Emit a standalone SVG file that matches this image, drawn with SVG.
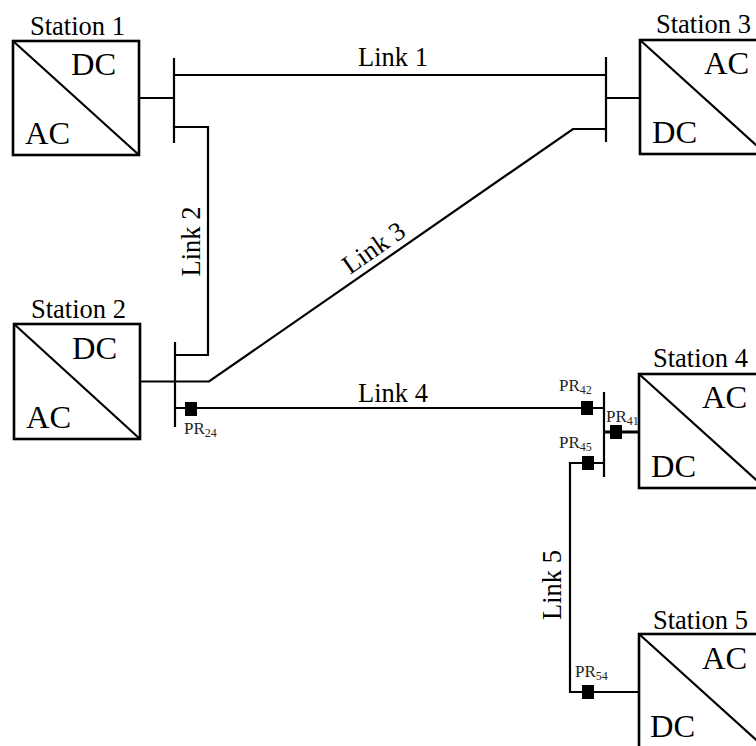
<svg xmlns="http://www.w3.org/2000/svg" width="756" height="746" viewBox="0 0 756 746">
<style>
text{font-family:"Liberation Serif","Times New Roman",serif;fill:#000}
.t{font-size:26.5px}
.c{font-size:32.5px}
.p{font-size:17px;fill:#222}
.s{font-size:12px}
.box{fill:#fff;stroke:#000;stroke-width:2.600}
.d{stroke:#000;stroke-width:2.200;fill:none}
.l{stroke:#000;stroke-width:2.200;fill:none}
.b{stroke:#000;stroke-width:2.200;fill:none}
.k{fill:#000}
</style>
<rect width="756" height="746" fill="#fff"/>
<g id="connectors">
<path class="b" d="M174 58V143M606 57V142M175 342V427M604 392V477"/>
<path class="l" d="M140 98H174M606 98H640"/>
<path class="l" d="M174 75H606"/>
<path class="l" d="M174 127H208V355H175"/>
<path class="l" d="M140 381.500H209L573 129H606"/>
<path class="l" d="M175 408H604"/>
<path class="l" d="M604 432H639" style="stroke-width:2.800"/>
<path class="l" d="M604 463H570V692H639"/>
</g>
<g id="station1"><rect class="box" x="13" y="41" width="126" height="114"/><path class="d" d="M13 41L139 155"/>
<text class="t" x="30" y="35">Station 1</text><text class="c" x="71" y="75">DC</text><text class="c" x="25" y="144">AC</text></g>
<g id="station2"><rect class="box" x="14" y="324" width="126" height="115"/><path class="d" d="M14 324L140 439"/>
<text class="t" x="31" y="318">Station 2</text><text class="c" x="72" y="359">DC</text><text class="c" x="26" y="428">AC</text></g>
<g id="station3"><rect class="box" x="640" y="40" width="140" height="114"/><path class="d" d="M640 40L766 154"/>
<text class="t" x="656" y="33">Station 3</text><text class="c" x="704" y="74">AC</text><text class="c" x="652" y="143">DC</text></g>
<g id="station4"><rect class="box" x="639" y="374" width="140" height="114"/><path class="d" d="M639 374L765 488"/>
<text class="t" x="653" y="367">Station 4</text><text class="c" x="702" y="408">AC</text><text class="c" x="651" y="477">DC</text></g>
<g id="station5"><rect class="box" x="639" y="634" width="140" height="140"/><path class="d" d="M639 634L765 748"/>
<text class="t" x="653" y="629">Station 5</text><text class="c" x="702" y="669">AC</text><text class="c" x="650" y="737">DC</text></g>
<g id="pr24"><rect class="k" x="185" y="402" width="12" height="14"/><text class="p" x="184" y="434">PR<tspan class="s" dy="3">24</tspan></text></g>
<g id="pr42"><rect class="k" x="581" y="401" width="12" height="14"/><text class="p" x="559" y="391">PR<tspan class="s" dy="3">42</tspan></text></g>
<g id="pr41"><rect class="k" x="610" y="425" width="12" height="14"/><text class="p" x="606" y="422">PR<tspan class="s" dy="3">41</tspan></text></g>
<g id="pr45"><rect class="k" x="582" y="456" width="12" height="14"/><text class="p" x="559" y="448">PR<tspan class="s" dy="3">45</tspan></text></g>
<g id="pr54"><rect class="k" x="582" y="685" width="12" height="14"/><text class="p" x="575" y="677">PR<tspan class="s" dy="3">54</tspan></text></g>
<g id="labels">
<text class="t" x="358" y="65.500">Link 1</text>
<text class="t" transform="translate(200 276.500) rotate(-90)">Link 2</text>
<text class="t" transform="translate(350 275) rotate(-35)">Link 3</text>
<text class="t" x="358" y="402">Link 4</text>
<text class="t" transform="translate(560.500 620) rotate(-90)">Link 5</text>
</g>
</svg>
